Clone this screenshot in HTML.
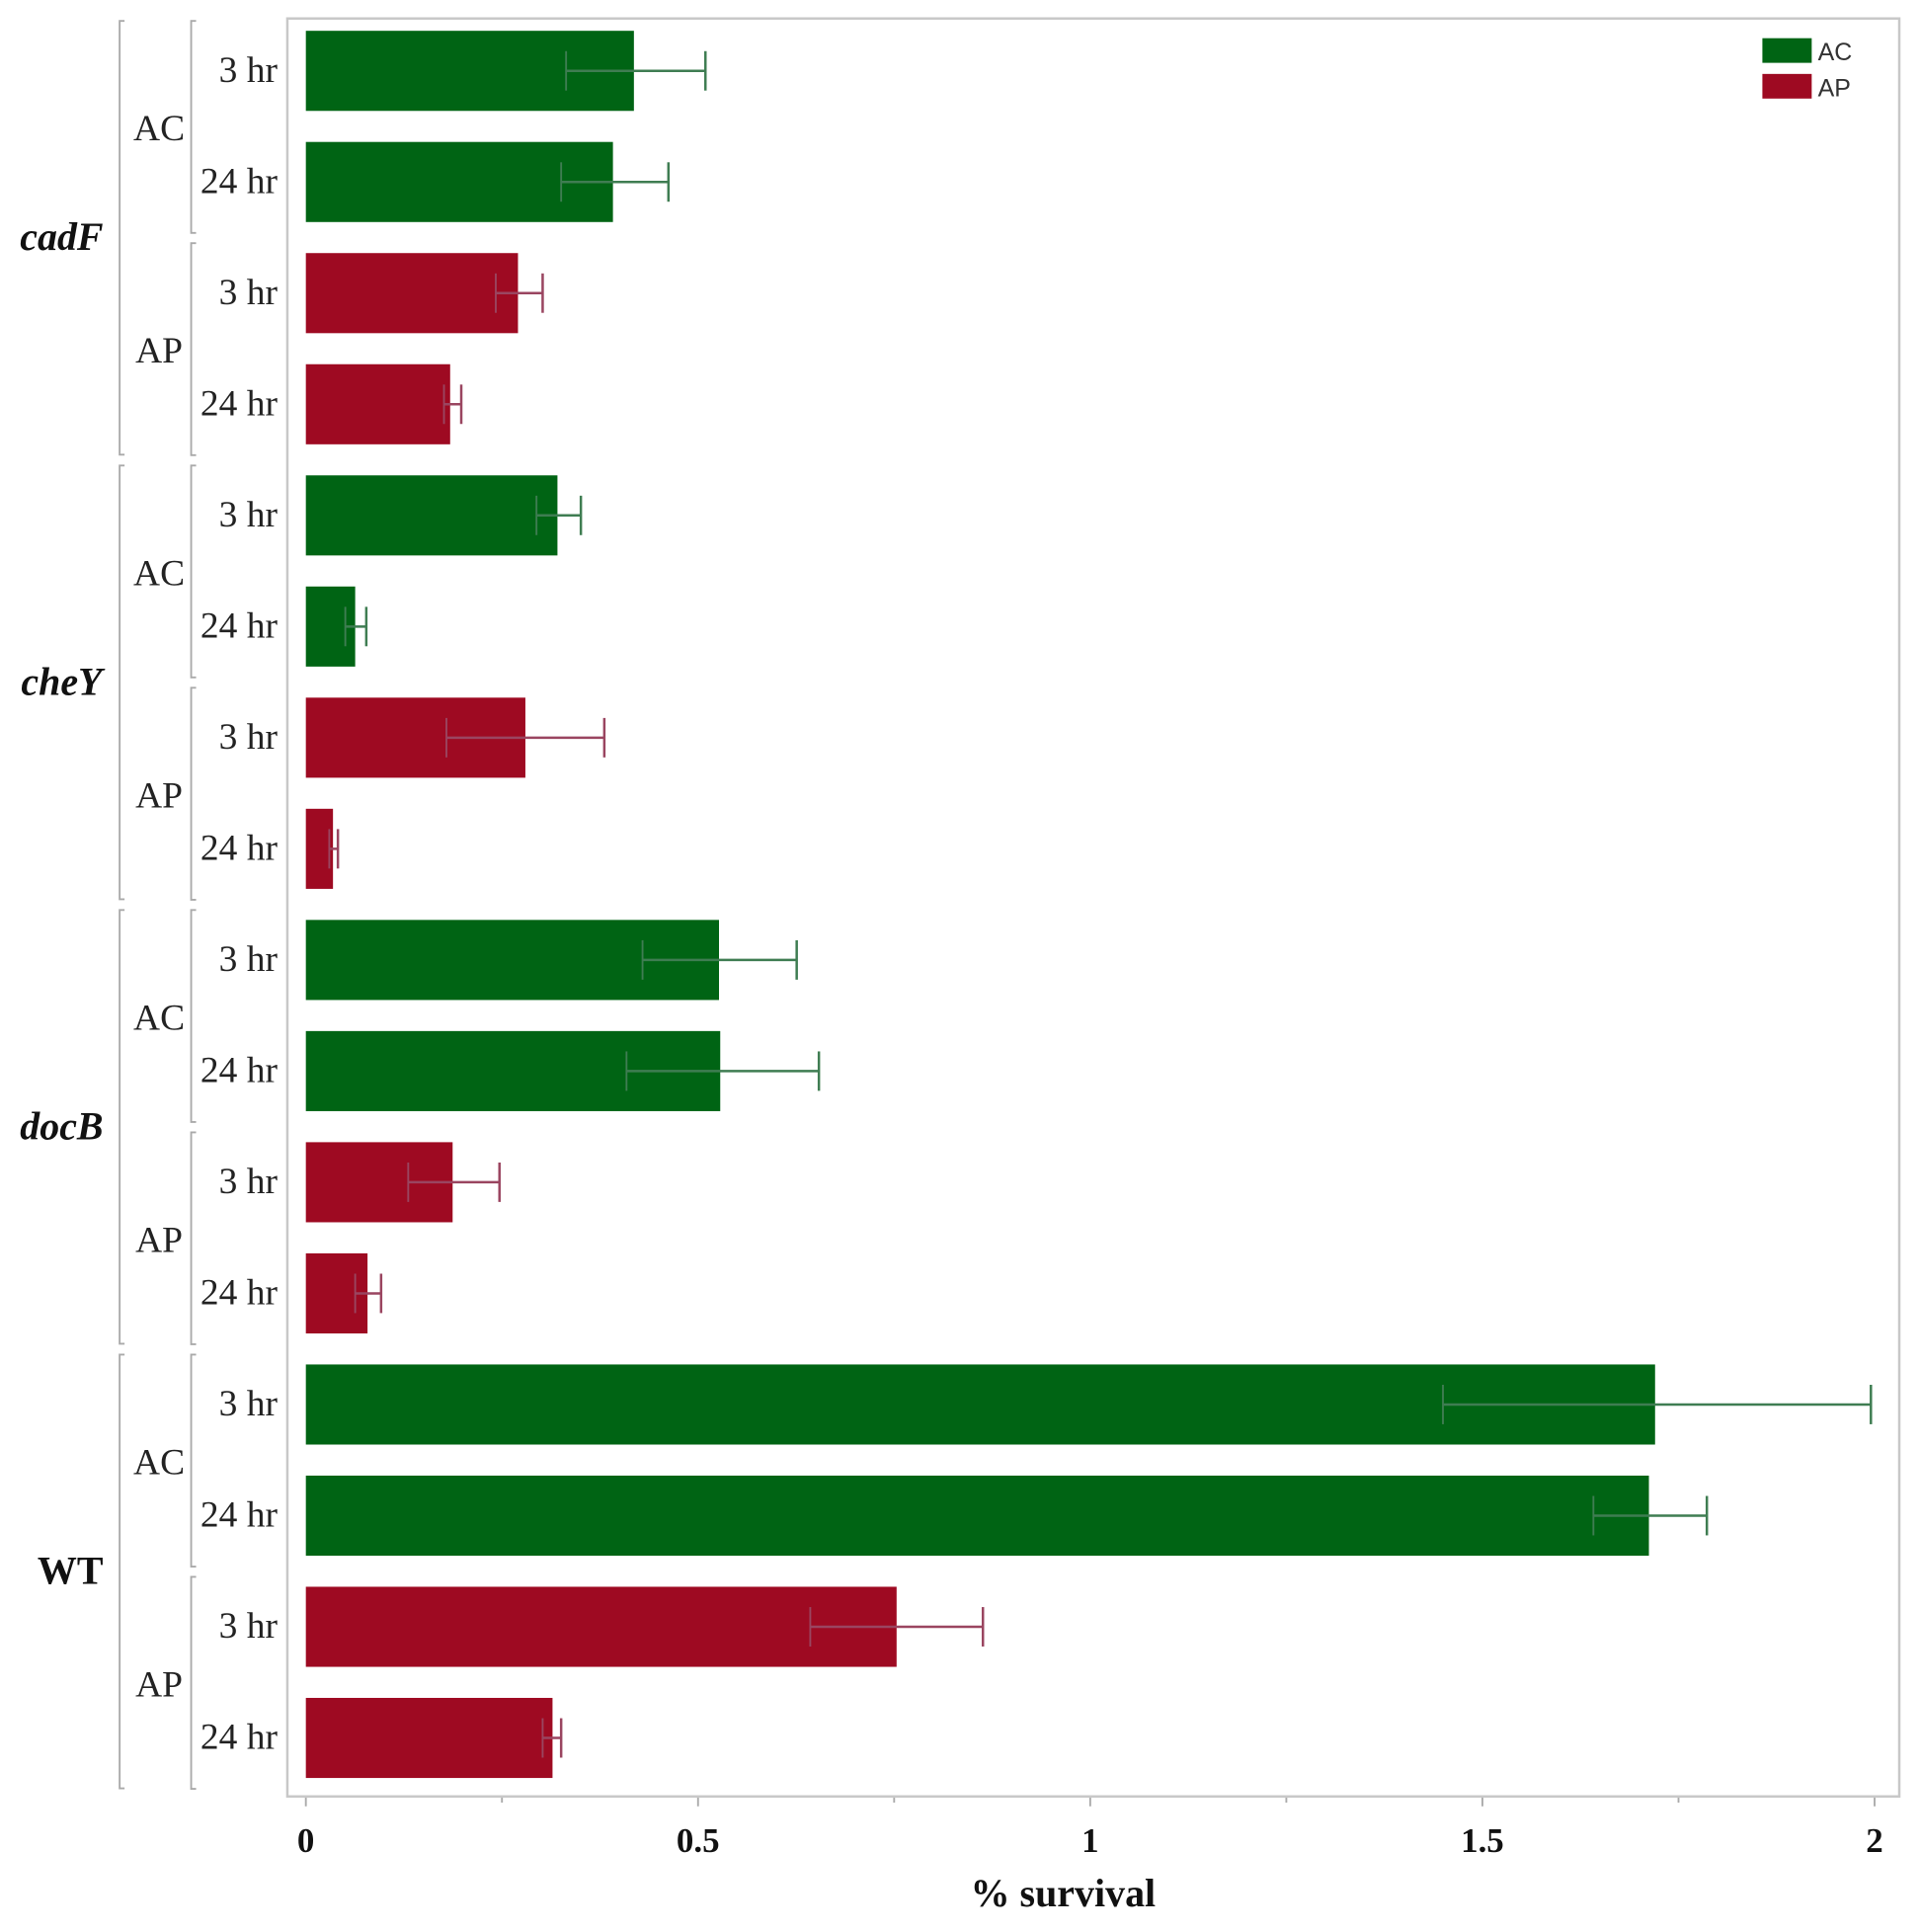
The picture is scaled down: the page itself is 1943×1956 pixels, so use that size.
<!DOCTYPE html>
<html><head><meta charset="utf-8"><style>html,body{margin:0;padding:0;background:#fff}svg{display:block}</style></head>
<body>
<svg width="1943" height="1956" viewBox="0 0 1556 1568" preserveAspectRatio="none" xmlns="http://www.w3.org/2000/svg">
<rect x="233" y="15" width="1307" height="1443" fill="#fff" stroke="#c8c8c8" stroke-width="2"/>
<g id="bars"></g>
<g font-family="Liberation Serif, serif" fill="#222">
<g stroke="#aaa" stroke-width="1.5">
<line x1="248" y1="1459" x2="248" y2="1466"/><line x1="407" y1="1459" x2="407" y2="1463"/>
<line x1="566" y1="1459" x2="566" y2="1466"/><line x1="725" y1="1459" x2="725" y2="1463"/>
<line x1="884" y1="1459" x2="884" y2="1466"/><line x1="1043" y1="1459" x2="1043" y2="1463"/>
<line x1="1202" y1="1459" x2="1202" y2="1466"/><line x1="1361" y1="1459" x2="1361" y2="1463"/>
<line x1="1520" y1="1459" x2="1520" y2="1466"/>
</g>
<g font-weight="bold" font-size="28" text-anchor="middle" fill="#111">
<text x="248" y="1503">0</text><text x="566" y="1503">0.5</text><text x="884" y="1503">1</text><text x="1202" y="1503">1.5</text><text x="1520" y="1503">2</text>
<text x="862" y="1547" font-size="32">% survival</text>
</g>
</g>
<g font-family="Liberation Sans, sans-serif" font-size="20" fill="#333">
<rect x="1429" y="31" width="40" height="20" fill="#006414"/><text x="1474" y="49">AC</text>
<rect x="1429" y="60" width="40" height="20" fill="#9e0a22"/><text x="1474" y="78">AP</text>
</g>
<script>
var vals=[[514,459,572],[497,455,542],[420,402,440],[365,360,374],[452,435,471],[288,280,297],[426,362,490],[270,267,274],[583,521,646],[584,508,664],[367,331,405],[298,288,309],[1342,1170,1517],[1337,1292,1384],[727,657,797],[448,440,455]];
var ns="http://www.w3.org/2000/svg",svg=document.querySelector('svg'),g=document.getElementById('bars');
function el(t,a,p,txt){var e=document.createElementNS(ns,t);for(var k in a)e.setAttribute(k,a[k]);if(txt)e.textContent=txt;(p||svg).appendChild(e);return e;}
var genes=[["cadF",1],["cheY",1],["docB",1],["WT",0]];
for(var i=0;i<16;i++){
 var y=25+i*90.2,v=vals[i],green=(Math.floor(i/2)%2==0);
 var c=green?"#006414":"#9e0a22",ec=green?"#3f7d52":"#9a4560";
 el('rect',{x:248,y:y,width:v[0]-248,height:65,fill:c},g);
 var cy=y+32.5;
 el('line',{x1:v[1],y1:cy,x2:v[2],y2:cy,stroke:ec,'stroke-width':2},g);
 el('line',{x1:v[1],y1:cy-16,x2:v[1],y2:cy+16,stroke:ec,'stroke-width':1.5},g);
 el('line',{x1:v[2],y1:cy-16,x2:v[2],y2:cy+16,stroke:ec,'stroke-width':2},g);
 el('text',{x:225,y:cy+9,'text-anchor':'end','font-family':'Liberation Serif, serif','font-size':30,fill:'#222'},null,i%2==0?"3 hr":"24 hr");
}
for(var j=0;j<8;j++){
 var t=17+j*180.4,b=t+172;
 el('path',{d:'M159 '+t+' H155 V'+b+' H159',fill:'none',stroke:'#aaa','stroke-width':1.5});
 el('text',{x:129,y:t+97,'text-anchor':'middle','font-family':'Liberation Serif, serif','font-size':30,fill:'#222'},null,j%2==0?"AC":"AP");
}
for(var k=0;k<4;k++){
 var t2=17+k*360.8,b2=t2+352;
 el('path',{d:'M101 '+t2+' H97 V'+b2+' H101',fill:'none',stroke:'#aaa','stroke-width':1.5});
 var a={x:k==3?57:50,y:t2+186,'text-anchor':'middle','font-family':'Liberation Serif, serif','font-size':32,'font-weight':'bold',fill:'#111'};
 if(genes[k][1])a['font-style']='italic';
 el('text',a,null,genes[k][0]);
}
</script>
</svg>
</body></html>
